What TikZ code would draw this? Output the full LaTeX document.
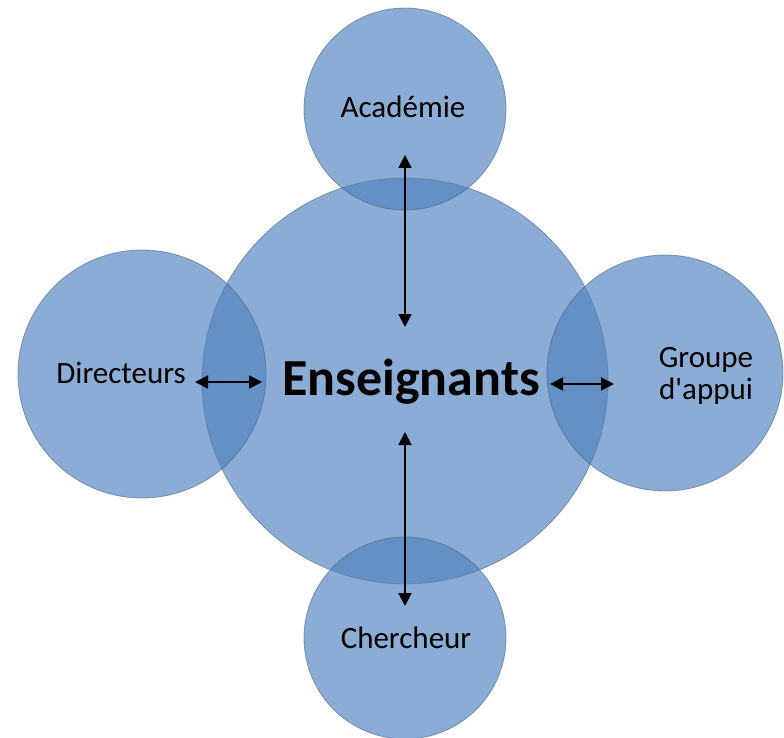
\documentclass[tikz,border=0pt]{standalone}
\usepackage{fontspec}
\setmainfont{Carlito}
\usetikzlibrary{positioning, arrows.meta}
\definecolor{bulleblue}{RGB}{79,129,189}
\definecolor{bulleedge}{RGB}{70,95,130}
\tikzset{
    bubble/.style={circle, inner sep=0pt, fill=bulleblue, fill opacity=0.66, draw=bulleedge, draw opacity=0.55, line width=0.8pt},
    label text/.style={font=\fontsize{31}{32}\selectfont, text=black, inner sep=0pt},
    link/.style={<->, >={Triangle[length=13pt, width=13pt]}, line width=1.8pt}
}
\begin{document}
\begin{tikzpicture}[x=1pt, y=-1pt]
        \useasboundingbox (0,0) rectangle (784,738);

        \node[bubble, minimum size=406pt]   (enseignants) at (405,381) {};
        \node[bubble, minimum size=202pt]   (academie)    at (405,109) {};
        \node[bubble, minimum size=202pt]   (chercheur)   at (405,638) {};
        \node[bubble, minimum size=248pt]   (directeurs)  at (142,374) {};
        \node[bubble, minimum size=236pt]   (groupe)      at (665,373) {};

        \node[label text, anchor=base]                (t academie)    at (403,118) {Académie};
        \node[label text, anchor=base]                (t chercheur)   at (406,648) {Chercheur};
        \node[label text, anchor=base]                (t directeurs)  at (121,383) {Directeurs};
        \node[label text, align=center]               (t groupe)      at (706,376) {Groupe\\d\textquotesingle appui};
        \node[label text, anchor=base, font=\fontsize{52}{56}\selectfont\bfseries]
                                                      (t enseignants) at (411,395) {Enseignants};

        \draw[link] ([yshift=-46pt]academie.center)              -- ([yshift=54pt]enseignants.center);
        \draw[link] ([yshift=-51pt]enseignants.center)           -- ([yshift=32pt]chercheur.center);
        \draw[link] ([xshift=53pt, yshift=-8pt]directeurs.center) -- ([xshift=-143pt, yshift=-1pt]enseignants.center);
        \draw[link] ([xshift=145pt, yshift=-3pt]enseignants.center) -- ([xshift=-51pt, yshift=-11pt]groupe.center);
    \end{tikzpicture}
\end{document}
